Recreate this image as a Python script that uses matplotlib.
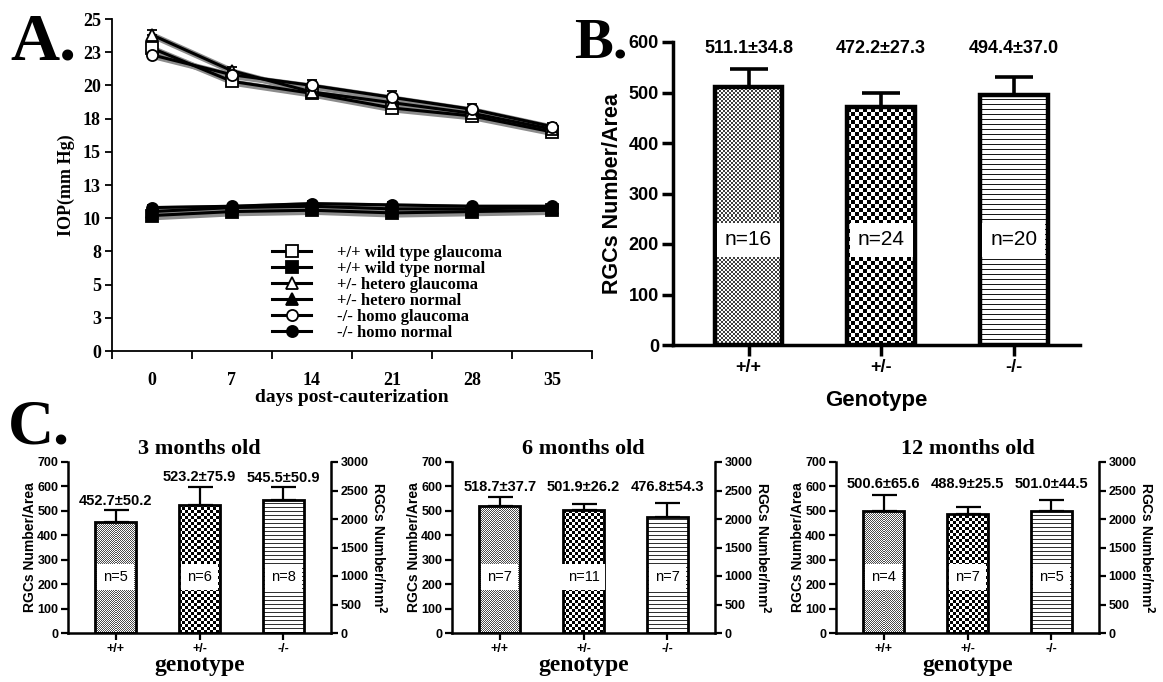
import numpy as np
import matplotlib.pyplot as plt
from matplotlib.ticker import FixedLocator, FuncFormatter, MultipleLocator

SERIF = 'Liberation Serif'
SANS = 'Liberation Sans'

# ---- Panel A data: IOP over time ----
days = [0, 7, 14, 21, 28, 35]
wt_glaucoma = [22.8, 20.3, 19.4, 18.3, 17.7, 16.5]
wt_normal = [10.2, 10.5, 10.6, 10.4, 10.5, 10.6]
het_glaucoma = [23.8, 21.1, 19.5, 18.7, 17.9, 16.7]
het_normal = [10.5, 10.8, 10.9, 10.7, 10.7, 10.8]
homo_glaucoma = [22.3, 20.8, 20.0, 19.1, 18.2, 16.9]
homo_normal = [10.8, 10.9, 11.1, 11.0, 10.9, 10.9]
err_glaucoma = [0.4, 0.3, 0.4, 0.5, 0.4, 0.3]
err_normal = [0.2, 0.2, 0.2, 0.2, 0.2, 0.2]

# ---- Panel B data ----
genotypes = ['+/+', '+/-', '-/-']
b_mean = [511.1, 472.2, 494.4]
b_sd = [34.8, 27.3, 37.0]
b_n = [16, 24, 20]

# ---- Panel C data ----
ages = ['3 months old', '6 months old', '12 months old']
c_mean_3m = [452.7, 523.2, 545.5]
c_sd_3m = [50.2, 75.9, 50.9]
c_n_3m = [5, 6, 8]
c_mean_6m = [518.7, 501.9, 476.8]
c_sd_6m = [37.7, 26.2, 54.3]
c_n_6m = [7, 11, 7]
c_mean_12m = [500.6, 488.9, 501.0]
c_sd_12m = [65.6, 25.5, 44.5]
c_n_12m = [4, 7, 5]

W, H = 1163, 682
fig = plt.figure(figsize=(W / 100, H / 100), dpi=100)


def px_axes(l, t, r, b):
    return fig.add_axes([l / W, (H - b) / H, (r - l) / W, (b - t) / H])


def pattern_fill(ax, bar, kind, cell, dark=0.0):
    # fill a bar with a pixel pattern (checkerboard or horizontal lines)
    x0, w, h = bar.get_x(), bar.get_width(), bar.get_height()
    p0 = ax.transData.transform((x0, 0))
    p1 = ax.transData.transform((x0 + w, h))
    nx = max(int(round(p1[0] - p0[0])), 1)
    ny = max(int(round(p1[1] - p0[1])), 1)
    i, j = np.indices((ny, nx))
    if kind == 'check':
        arr = ((i // cell + j // cell) % 2).astype(float)
    else:
        arr = ((i % cell) != 0).astype(float)
    arr = np.where(arr > 0, 1.0, dark)
    im = ax.imshow(arr, cmap='gray', vmin=0, vmax=1, extent=(x0, x0 + w, 0, h),
                   origin='lower', interpolation='nearest', aspect='auto', zorder=1)
    im.set_clip_path(bar)


def bar_panel(ax, means, sds, ns, width, edge_lw, elw, cap, n_y, n_fs, pad):
    x = np.arange(len(means))
    bars = ax.bar(x, means, width=width, color='none', edgecolor='black',
                  linewidth=edge_lw, zorder=3)
    ax.errorbar(x, means, yerr=[np.zeros(len(sds)), sds], fmt='none', ecolor='black',
                elinewidth=elw, capsize=cap, capthick=elw, zorder=2)
    for xi, n in zip(x, ns):
        ax.text(xi, n_y, f'n={n}', ha='center', va='center', fontsize=n_fs,
                family=SANS, zorder=5,
                bbox=dict(boxstyle=f'square,pad={pad}', fc='white', ec='none'))
    return bars


# ================= Panel A =================
axA = px_axes(112, 19, 592, 351)
series = [
    ('+/+ wild type glaucoma', wt_glaucoma, err_glaucoma, 's', 'white'),
    ('+/+ wild type normal', wt_normal, err_normal, 's', 'black'),
    ('+/- hetero glaucoma', het_glaucoma, err_glaucoma, '^', 'white'),
    ('+/- hetero normal', het_normal, err_normal, '^', 'black'),
    ('-/- homo glaucoma', homo_glaucoma, err_glaucoma, 'o', 'white'),
    ('-/- homo normal', homo_normal, err_normal, 'o', 'black'),
]
for label, vals, err, mk, fc in series:
    axA.plot(np.array(days) + 0.25, np.array(vals) - 0.12, color='0.55', lw=4.5,
             solid_capstyle='round', zorder=2)
for label, vals, err, mk, fc in series:
    axA.errorbar(days, vals, yerr=[np.zeros(len(err)), err], fmt='none', ecolor='black',
                 elinewidth=1.3, capsize=3.5, capthick=1.3, zorder=3)
    axA.plot(days, vals, color='black', lw=2.2, marker=mk, ms=8 if mk != '^' else 9,
             mfc=fc, mec='black', mew=1.3, label=label, zorder=4)

axA.set_xlim(-3.5, 38.5)
axA.set_ylim(0, 25)
axA.xaxis.set_major_locator(FixedLocator(np.arange(-3.5, 39, 7)))
axA.xaxis.set_major_formatter(FuncFormatter(lambda v, p: ''))
axA.xaxis.set_minor_locator(FixedLocator(days))
axA.xaxis.set_minor_formatter(FuncFormatter(lambda v, p: f'{int(v)}'))
axA.tick_params(axis='x', which='major', direction='out', length=6, width=1.3)
axA.tick_params(axis='x', which='minor', length=0, pad=15)
axA.yaxis.set_major_locator(MultipleLocator(2.5))
axA.yaxis.set_major_formatter(FuncFormatter(lambda v, p: f'{int(v + 0.5)}'))
axA.tick_params(axis='y', direction='out', length=5, width=1.3, pad=3)
for lab in axA.get_xticklabels(which='both') + axA.get_yticklabels():
    lab.set_fontfamily(SERIF)
    lab.set_fontweight('bold')
    lab.set_fontsize(13)
for s in ['top', 'right']:
    axA.spines[s].set_visible(False)
for s in ['left', 'bottom']:
    axA.spines[s].set_linewidth(1.3)
axA.set_ylabel('IOP(mm Hg)', family=SERIF, weight='bold', fontsize=13, labelpad=6)
axA.set_xlabel('days post-cauterization', family=SERIF, weight='bold', fontsize=14,
               labelpad=0)
axA.legend(loc='lower left', bbox_to_anchor=(0.31, -0.005), frameon=False,
           prop=dict(family=SERIF, weight='bold', size=12), labelspacing=0.0,
           handlelength=2.3, handletextpad=1.6, borderpad=0.2)

# ================= Panel B =================
axB = px_axes(673, 42, 1080, 345)
barsB = bar_panel(axB, b_mean, b_sd, b_n, width=0.51, edge_lw=3.2, elw=2.6, cap=14,
                  n_y=208, n_fs=15, pad=0.38)
axB.set_xlim(-0.57, 2.5)
axB.set_ylim(0, 600)
for bar, kind, cell, dark in zip(barsB, ['check', 'check', 'hline'], [2, 4, 5], [0.25, 0.0, 0.1]):
    pattern_fill(axB, bar, kind, cell, dark)
axB.set_xlim(-0.57, 2.5)
axB.set_ylim(0, 600)
for xi, m, s in zip(range(3), b_mean, b_sd):
    axB.text(xi, 588, f'{m:.1f}\u00b1{s:.1f}', ha='center', va='center',
             family=SANS, weight='bold', fontsize=13)
axB.set_xticks(range(3))
axB.set_xticklabels(genotypes)
axB.yaxis.set_major_locator(MultipleLocator(100))
axB.tick_params(direction='out', length=8, width=2.5, pad=2)
for lab in axB.get_xticklabels() + axB.get_yticklabels():
    lab.set_fontfamily(SANS)
    lab.set_fontweight('bold')
    lab.set_fontsize(13)
for s in ['top', 'right']:
    axB.spines[s].set_visible(False)
for s in ['left', 'bottom']:
    axB.spines[s].set_linewidth(2.5)
axB.set_ylabel('RGCs Number/Area', family=SANS, weight='bold', fontsize=15.5, labelpad=4)
axB.set_xlabel('Genotype', family=SANS, weight='bold', fontsize=16, labelpad=10)

# ================= Panel C =================
c_means = [c_mean_3m, c_mean_6m, c_mean_12m]
c_sds = [c_sd_3m, c_sd_6m, c_sd_12m]
c_ns = [c_n_3m, c_n_6m, c_n_12m]
label_mode = ['each', 'max', 'max']
for k, left in enumerate([68, 452, 836]):
    ax = px_axes(left, 462, left + 263, 633)
    bars = bar_panel(ax, c_means[k], c_sds[k], c_ns[k], width=0.49, edge_lw=2.0, elw=1.6,
                     cap=9, n_y=230, n_fs=10.5, pad=0.4)
    ax.set_xlim(-0.57, 2.57)
    ax.set_ylim(0, 700)
    for bar, kind, cell, dark in zip(bars, ['check', 'check', 'hline'], [1, 3, 4],
                                     [0.3, 0.0, 0.2]):
        pattern_fill(ax, bar, kind, cell, dark)
    ax.set_xlim(-0.57, 2.57)
    ax.set_ylim(0, 700)
    tops = np.array(c_means[k]) + np.array(c_sds[k])
    for xi, m, s, t in zip(range(3), c_means[k], c_sds[k], tops):
        y = t + 38 if label_mode[k] == 'each' else tops.max() + 42
        ax.text(xi, y, f'{m:.1f}\u00b1{s:.1f}', ha='center', va='center',
                family=SANS, weight='bold', fontsize=10.5)
    ax.set_xticks(range(3))
    ax.set_xticklabels(genotypes)
    ax.yaxis.set_major_locator(MultipleLocator(100))
    ax.tick_params(direction='out', length=5, width=1.6, pad=2)
    for lab in ax.get_xticklabels() + ax.get_yticklabels():
        lab.set_fontfamily(SANS)
        lab.set_fontweight('bold')
        lab.set_fontsize(9)
    ax.spines['top'].set_visible(False)
    ax.spines['right'].set_visible(False)
    for s in ['left', 'bottom']:
        ax.spines[s].set_linewidth(1.8)
    ax.set_ylabel('RGCs Number/Area', family=SANS, weight='bold', fontsize=10, labelpad=0)
    ax.set_xlabel('genotype', family=SERIF, weight='bold', fontsize=17, labelpad=0)
    ax.set_title(ages[k], family=SERIF, weight='bold', fontsize=16, pad=6)

    ax2 = ax.twinx()
    ax2.set_ylim(0, 3000)
    ax2.yaxis.set_major_locator(MultipleLocator(500))
    ax2.tick_params(direction='out', length=5, width=1.6, pad=2)
    for lab in ax2.get_yticklabels():
        lab.set_fontfamily(SANS)
        lab.set_fontweight('bold')
        lab.set_fontsize(9)
    for s in ['top', 'left', 'bottom']:
        ax2.spines[s].set_visible(False)
    ax2.spines['right'].set_linewidth(1.8)
    ax2.set_ylabel('RGCs Number/mm$^{\\mathbf{2}}$', family=SANS, weight='bold',
                   fontsize=10, rotation=270, labelpad=14)

# panel letters
fig.text(10 / W, (H - 60) / H, 'A.', family=SERIF, weight='bold', fontsize=49, va='baseline')
fig.text(574 / W, (H - 57) / H, 'B.', family=SERIF, weight='bold', fontsize=42, va='baseline')
fig.text(8 / W, (H - 443) / H, 'C.', family=SERIF, weight='bold', fontsize=46, va='baseline')

fig.savefig('out.png', dpi=100)
